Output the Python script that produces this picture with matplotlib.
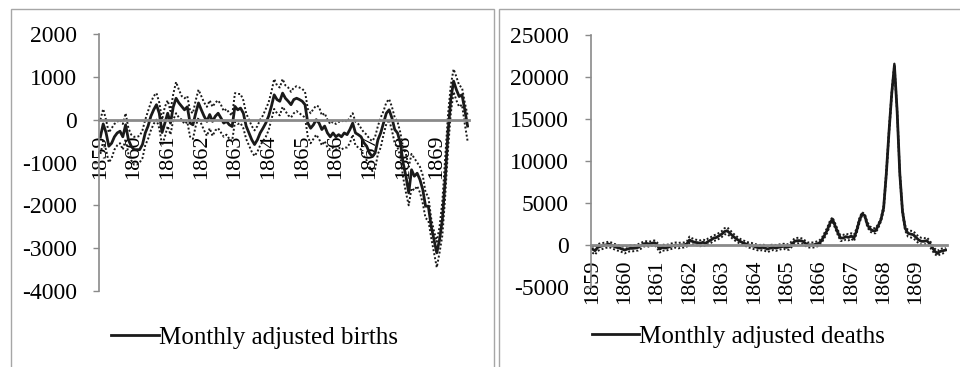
#!/usr/bin/env python3
"""
Monthly adjusted births / deaths, 1859-1869, with dotted confidence bands.
Two Excel-style panels side by side, saved to out.png (960x367).
"""
import matplotlib
matplotlib.use("Agg")
import matplotlib.pyplot as plt
from matplotlib.patches import Rectangle

# ---- data (one value per month, Jan 1859 .. Dec 1869) ----
years = [1859, 1860, 1861, 1862, 1863, 1864, 1865, 1866, 1867, 1868, 1869]

births = [
    -400, -100, -300, -620, -550, -400, -310, -270, -400, -120, -470, -620,
    -700, -700, -700, -580, -310, -150, 80, 230, 350, 150, -300, -80,
    150, -80, 300, 500, 390, 310, 230, 300, -80, -120, 150, 390,
    230, 80, -40, 120, -40, 80, 150, 40, -80, -40, -120, -160,
    310, 230, 270, 150, -150, -310, -470, -580, -470, -310, -200, -80,
    80, 310, 580, 470, 430, 620, 500, 430, 350, 470, 500, 470,
    430, 350, -80, -200, -120, 0, -80, -230, -150, -310, -400, -310,
    -400, -350, -400, -310, -350, -230, -80, -310, -350, -400, -540, -620,
    -780, -860, -780, -470, -310, -80, 150, 230, 40, -230, -310, -540,
    -1010, -1320, -1710, -1170, -1320, -1250, -1400, -1630, -2020, -2020, -2490, -2800,
    -3110, -2800, -2330, -1400, -310, 470, 900, 700, 540, 580, 230, -150,
]
births_hi = [
    0, 250, 0, -300, -200, -100, -50, 0, -100, 150, -200, -350,
    -400, -400, -380, -250, 0, 200, 400, 550, 620, 400, 0, 300,
    450, 200, 600, 880, 700, 550, 500, 550, 200, 150, 450, 700,
    550, 400, 300, 450, 300, 400, 450, 350, 200, 250, 150, 100,
    620, 600, 600, 450, 150, 0, -150, -250, -150, 0, 100, 250,
    400, 650, 950, 800, 750, 950, 800, 750, 650, 750, 780, 750,
    720, 650, 250, 150, 250, 330, 300, 100, 150, 0, -100, -50,
    -100, -50, -50, 0, -50, 50, 150, -50, -100, -200, -300, -350,
    -450, -500, -400, -150, 50, 200, 400, 480, 300, 50, -50, -300,
    -650, -800, -1100, -800, -900, -1000, -1100, -1300, -1700, -1800, -2300, -2600,
    -2850, -2500, -1900, -900, 100, 800, 1180, 1000, 800, 750, 400, 100,
]
births_lo = [
    -800, -500, -700, -1000, -900, -700, -600, -550, -700, -450, -800, -950,
    -1050, -1050, -1000, -900, -600, -450, -250, -100, 0, -200, -600, -400,
    -150, -350, 0, 150, 50, 0, -100, -50, -400, -450, -150, 50,
    -100, -250, -380, -200, -380, -250, -200, -300, -400, -350, -450, -500,
    -50, -100, -80, -200, -450, -600, -750, -850, -750, -600, -500, -400,
    -250, 0, 250, 150, 100, 300, 200, 100, 50, 150, 200, 150,
    100, 50, -400, -550, -450, -350, -450, -600, -500, -650, -700, -650,
    -700, -650, -700, -650, -650, -550, -350, -600, -650, -700, -850, -950,
    -1100, -1200, -1150, -800, -650, -350, -100, 0, -250, -550, -650, -850,
    -1350, -1700, -2000, -1600, -1650, -1550, -1700, -1950, -2300, -2350, -2750, -3100,
    -3450, -3100, -2700, -1800, -700, 150, 650, 450, 300, 350, -100, -500,
]

deaths = [
    -480, -680, -280, -160, -80, 0, 120, 0, -160, -280, -360, -480,
    -600, -480, -400, -400, -360, -280, -80, 120, 200, 120, 200, 280,
    0, -480, -280, -360, -280, -160, -80, 0, -80, 0, 0, 120,
    600, 440, 320, 280, 200, 320, 200, 440, 600, 830, 900, 1100,
    1300, 1600, 1700, 1400, 1100, 830, 600, 400, 240, 120, 0, -80,
    -160, -280, -360, -280, -360, -480, -360, -280, -360, -280, -200, -160,
    -280, -200, 120, 440, 520, 520, 440, 200, 0, 0, 0, 120,
    200, 520, 1100, 1700, 2500, 3100, 2300, 1500, 830, 830, 1000, 900,
    1070, 830, 1700, 2900, 3700, 3500, 2400, 1900, 1700, 1700, 2300, 3000,
    4400, 8500, 13500, 18000, 21400, 16000, 8500, 4000, 2000, 1400, 1300, 1230,
    900, 600, 440, 440, 520, 200, -280, -760, -1000, -760, -680, -600,
]
deaths_hi = [
    -100, -300, 100, 200, 250, 300, 400, 300, 150, 50, -50, -150,
    -250, -150, -50, -50, 0, 100, 250, 400, 450, 400, 450, 550,
    300, -100, 50, 0, 50, 150, 250, 300, 250, 300, 300, 400,
    1000, 800, 650, 600, 550, 650, 550, 800, 950, 1150, 1250, 1450,
    1650, 2000, 2100, 1800, 1450, 1150, 900, 700, 550, 400, 300, 250,
    150, 50, 0, 50, 0, -150, 0, 50, 0, 50, 100, 150,
    50, 150, 450, 800, 850, 850, 750, 500, 300, 300, 300, 400,
    500, 800, 1400, 2000, 2800, 3300, 2600, 1800, 1150, 1200, 1350, 1250,
    1400, 1200, 2000, 3200, 3900, 3700, 2700, 2200, 2000, 2000, 2500, 3200,
    4700, 8800, 13800, 18300, 21600, 16300, 8800, 4300, 2300, 1800, 1700, 1650,
    1300, 1000, 850, 800, 900, 550, 100, -450, -700, -450, -400, -350,
]
deaths_lo = [
    -900, -1150, -700, -550, -450, -350, -250, -350, -500, -650, -700, -850,
    -1000, -850, -750, -750, -700, -650, -450, -200, -100, -200, -100, 0,
    -350, -900, -650, -700, -600, -500, -400, -300, -400, -300, -300, -200,
    250, 100, 0, -50, -150, 0, -150, 100, 250, 500, 550, 750,
    950, 1250, 1300, 1050, 750, 500, 300, 100, -50, -150, -300, -400,
    -500, -600, -700, -600, -700, -850, -700, -600, -700, -600, -500, -450,
    -600, -550, -200, 100, 200, 200, 100, -100, -300, -300, -300, -200,
    -100, 250, 800, 1400, 2200, 2900, 2000, 1200, 500, 450, 650, 550,
    750, 450, 1400, 2600, 3500, 3300, 2100, 1600, 1400, 1400, 2000, 2800,
    4100, 8200, 13200, 17700, 21200, 15700, 8200, 3700, 1700, 1000, 900, 800,
    500, 200, 50, 50, 150, -150, -650, -1100, -1300, -1100, -1000, -900,
]

births_yticks = [-4000, -3000, -2000, -1000, 0, 1000, 2000]
deaths_yticks = [-5000, 0, 5000, 10000, 15000, 20000, 25000]

# ---- style: Excel-ish, serif text ----
plt.rcParams["font.family"] = ["Liberation Serif", "DejaVu Serif"]
plt.rcParams["axes.unicode_minus"] = False
FS_Y = 17
FS_X = 16
FS_LEG = 18
AXIS_GREY = "#8a8a8a"
BOX_GREY = "#a6a6a6"
LINE = "#1a1a1a"

W, H = 960, 367
fig = plt.figure(figsize=(W / 100, H / 100), dpi=100)


def px_axes(x0, x1, ytop, ybot):
    """axes from pixel box (y measured from the top)."""
    return fig.add_axes([x0 / W, 1 - ybot / H, (x1 - x0) / W, (ybot - ytop) / H])


def panel(ax, main, hi, lo, yticks, label, leg_xy):
    n = len(main)
    x = list(range(n))
    ax.plot(x, hi, color=LINE, lw=1.4, ls=(0, (1, 1.1)))
    ax.plot(x, lo, color=LINE, lw=1.4, ls=(0, (1, 1.1)))
    ax.plot(x, main, color=LINE, lw=2.0, label=label)

    # spine position first: set_position() resets the ticks
    for s in ("top", "right"):
        ax.spines[s].set_visible(False)
    ax.spines["bottom"].set_position(("data", 0))
    ax.spines["bottom"].set_color(AXIS_GREY)
    ax.spines["bottom"].set_linewidth(2.0)
    ax.spines["left"].set_color(AXIS_GREY)
    ax.spines["left"].set_linewidth(1.2)

    ax.set_xlim(-0.5, n - 0.5)
    ax.set_ylim(yticks[0], yticks[-1])
    ax.set_yticks(yticks)
    ax.set_yticklabels([str(v) for v in yticks])
    ax.set_xticks(range(0, n, 12))
    ax.set_xticklabels([str(y) for y in years])

    ax.tick_params(axis="y", direction="out", length=4.5, width=1.0,
                   color=AXIS_GREY, pad=11.5, labelsize=FS_Y)
    ax.tick_params(axis="x", length=0, pad=10.5, labelsize=FS_X, labelrotation=90)

    ax.legend(loc="center", bbox_to_anchor=leg_xy, frameon=False, fontsize=FS_LEG,
              handlelength=1.9, handletextpad=0.0, borderpad=0)


ax1 = px_axes(99, 469, 34, 291)
panel(ax1, births, births_hi, births_lo, births_yticks,
      "Monthly adjusted births", (0.42, -0.18))

ax2 = px_axes(591, 947, 35, 287)
panel(ax2, deaths, deaths_hi, deaths_lo, deaths_yticks,
      "Monthly adjusted deaths", (0.414, -0.198))

# panel frames (bottom edge runs off the page in the original)
for x0, x1 in ((11, 494), (499, 962)):
    fig.add_artist(Rectangle((x0 / W, -0.2), (x1 - x0) / W, 1.2 - 9 / H,
                             transform=fig.transFigure, fill=False,
                             ec=BOX_GREY, lw=1.0))

fig.savefig("out.png", dpi=100)
plt.close(fig)
